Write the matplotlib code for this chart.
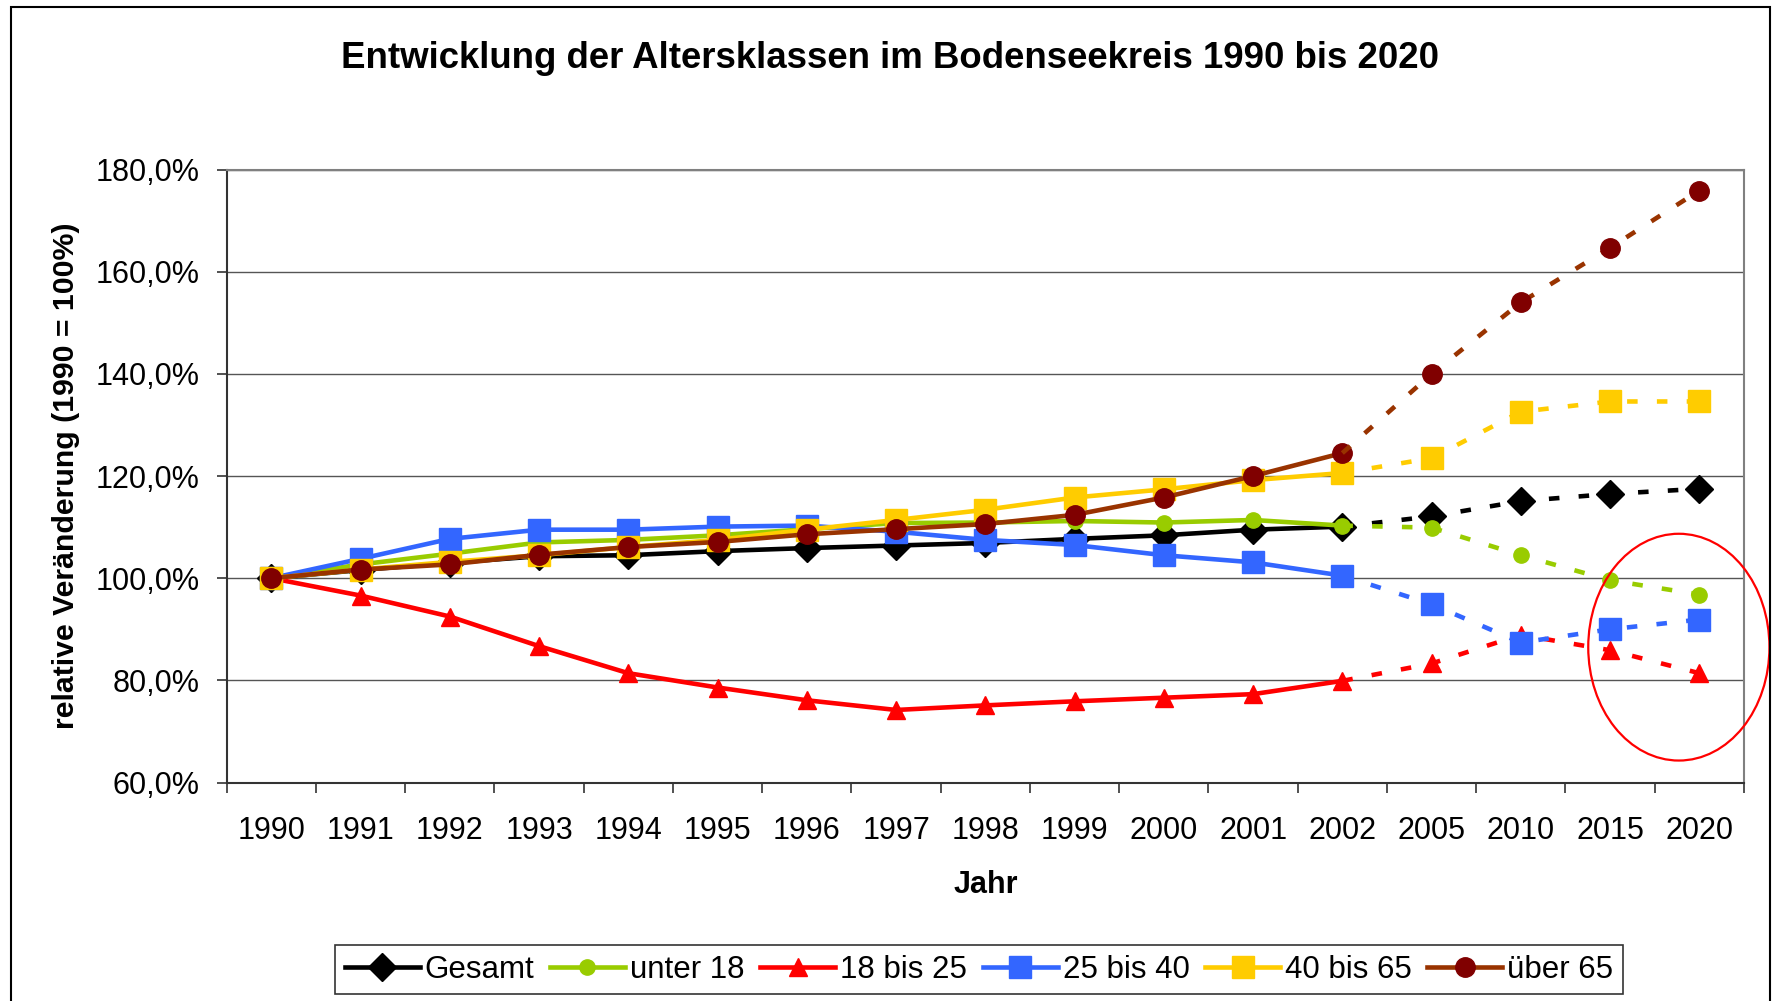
import numpy as np
import matplotlib
matplotlib.use("Agg")
import matplotlib.pyplot as plt
from matplotlib.patches import Ellipse, Rectangle
from matplotlib.ticker import FuncFormatter

plt.rcParams['font.family'] = ['Liberation Sans', 'DejaVu Sans']

years = ['1990', '1991', '1992', '1993', '1994', '1995', '1996', '1997', '1998',
         '1999', '2000', '2001', '2002', '2005', '2010', '2015', '2020']

gesamt = [100.0, 101.6, 103.0, 104.3, 104.5, 105.3, 105.9, 106.4, 106.9, 107.7,
          108.4, 109.5, 110.1, 112.1, 115.1, 116.5, 117.5]
unter18 = [100.0, 102.7, 104.8, 107.0, 107.5, 108.4, 109.6, 110.8, 110.9, 111.2,
           110.9, 111.4, 110.3, 109.9, 104.5, 99.6, 96.8]
b18_25 = [100.0, 96.6, 92.5, 86.7, 81.4, 78.6, 76.1, 74.2, 75.1, 75.9,
          76.6, 77.3, 79.9, 83.3, 88.9, 85.9, 81.4]
b25_40 = [100.0, 103.8, 107.7, 109.5, 109.5, 110.1, 110.3, 109.1, 107.5, 106.5,
          104.5, 103.1, 100.5, 94.9, 87.4, 90.0, 91.9]
b40_65 = [100.0, 101.7, 103.2, 104.5, 106.1, 107.5, 109.5, 111.4, 113.4, 115.8,
          117.4, 119.2, 120.6, 123.5, 132.6, 134.6, 134.6]
ueber65 = [100.0, 101.7, 102.7, 104.6, 106.1, 107.1, 108.6, 109.6, 110.6, 112.4,
           115.8, 120.0, 124.5, 140.0, 154.0, 164.7, 175.9]

labels = ['Gesamt', 'unter 18', '18 bis 25', '25 bis 40', '40 bis 65', 'über 65']
series = [gesamt, unter18, b18_25, b25_40, b40_65, ueber65]
# line colour, marker colour, marker, marker size
styles = [('#000000', '#000000', 'D', 14.5),
          ('#99CC00', '#99CC00', 'o', 11),
          ('#FF0000', '#FF0000', '^', 12.5),
          ('#3366FF', '#3366FF', 's', 16),
          ('#FFCC00', '#FFCC00', 's', 16),
          ('#993300', '#800000', 'o', 14)]

split = years.index('2002')
x = np.arange(len(years))

fig = plt.figure(figsize=(17.73, 10.01), dpi=100)
ax = fig.add_axes([0.12786, 0.21828, 0.85578, 0.61229])

handles = []
for vals, lab, (lc, mc, mk, ms) in zip(series, labels, styles):
    v = np.asarray(vals)
    h, = ax.plot(x[:split + 1], v[:split + 1], color=lc, lw=3.3, marker=mk, ms=ms,
                 markerfacecolor=mc, markeredgecolor=mc, label=lab)
    ax.plot(x[split:], v[split:], color=lc, lw=3.3, ls=(0, (2.3, 4.2)),
            dash_capstyle='butt', marker=mk, ms=ms, markevery=list(range(1, len(x) - split)),
            markerfacecolor=mc, markeredgecolor=mc)
    handles.append(h)

ax.set_xlim(-0.5, len(years) - 0.5)
ax.set_ylim(60, 180)
ax.set_yticks(np.arange(60, 181, 20))
ax.yaxis.set_major_formatter(FuncFormatter(lambda v, p: f"{v:.1f}%".replace('.', ',')))
ax.grid(axis='y', color='#555555', lw=1)
ax.set_axisbelow(True)

ax.set_xticks(x)
ax.set_xticklabels(years)
ax.set_xticks(np.arange(-0.5, len(years)), minor=True)
ax.tick_params(axis='x', which='major', length=0, pad=24, labelsize=22)
ax.tick_params(axis='x', which='minor', length=7.2, width=1.2, color='#333333')
ax.tick_params(axis='y', length=7.2, width=1.2, pad=12.5, labelsize=22, color='#333333')

for s in ['top', 'right']:
    ax.spines[s].set_color('#808080')
    ax.spines[s].set_linewidth(1.5)
for s in ['left', 'bottom']:
    ax.spines[s].set_color('#333333')
    ax.spines[s].set_linewidth(1.5)

ax.set_xlabel('Jahr', fontsize=22, fontweight='bold', labelpad=17.5)
ax.set_ylabel('relative Veränderung (1990 = 100%)', fontsize=21.8, fontweight='bold', labelpad=11)

fig.text(890 / 1773, 1 - 59 / 1001, 'Entwicklung der Altersklassen im Bodenseekreis 1990 bis 2020',
         ha='center', va='center', fontsize=26.4, fontweight='bold')

# red highlight around the last two projections
ax.add_patch(Ellipse((15.77, 86.5), width=2.03, height=44.4, fill=False,
                     edgecolor='#FF0000', lw=1.6, clip_on=False, zorder=10))

leg = fig.legend(handles=handles, loc='center', bbox_to_anchor=(979 / 1773, 1 - 969.5 / 1001),
                 ncol=6, fontsize=22.5, frameon=True, fancybox=False, edgecolor='#000000',
                 handlelength=2.4, handletextpad=0.16, columnspacing=0.5, borderpad=0.3)
leg.get_frame().set_linewidth(1.2)

fig.patches.append(Rectangle((11 / 1773, -0.02), (1769.5 - 11) / 1773, 1.02 - 6.7 / 1001,
                             transform=fig.transFigure, fill=False, edgecolor='#000000', lw=1.5))

fig.savefig('out.png', dpi=100)
